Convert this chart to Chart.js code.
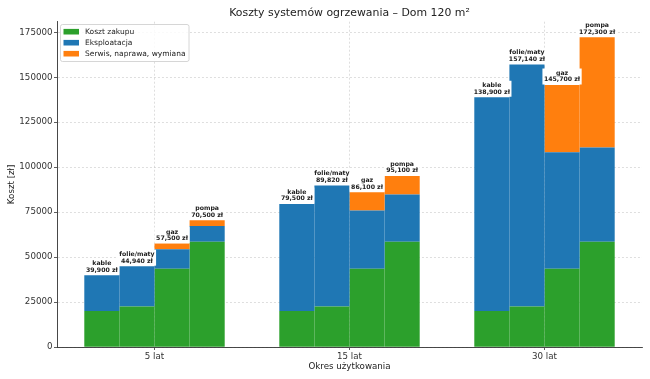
<!DOCTYPE html>
<html>
<head>
<meta charset="utf-8">
<script src="https://cdn.jsdelivr.net/npm/chart.js@4/dist/chart.umd.min.js"></script>
<style>
  html, body { margin: 0; padding: 0; background: #fff; }
  canvas { display: block; }
</style>
</head>
<body>
<canvas id="c" width="650" height="379"></canvas>
<script>
// ---- data ----
const categories = ['5 lat', '15 lat', '30 lat'];
const systems = ['kable', 'folie/maty', 'gaz', 'pompa'];
const components = ['Koszt zakupu', 'Eksploatacja', 'Serwis, naprawa, wymiana'];
const colors = ['#2ca02c', '#1f77b4', '#ff7f0e'];

const zakupKable = [20000, 20000, 20000];
const eksploatacjaKable = [19900, 59500, 118900];
const serwisKable = [0, 0, 0];

const zakupFolie = [22500, 22500, 22500];
const eksploatacjaFolie = [22440, 67320, 134640];
const serwisFolie = [0, 0, 0];

const zakupGaz = [43500, 43500, 43500];
const eksploatacjaGaz = [10800, 32400, 64800];
const serwisGaz = [3200, 10200, 37400];

const zakupPompa = [58500, 58500, 58500];
const eksploatacjaPompa = [8750, 26250, 52500];
const serwisPompa = [3250, 10350, 61300];

const yTicks = [0, 25000, 50000, 75000, 100000, 125000, 150000, 175000];

const seriesBySystem = [
  [zakupKable, eksploatacjaKable, serwisKable],
  [zakupFolie, eksploatacjaFolie, serwisFolie],
  [zakupGaz, eksploatacjaGaz, serwisGaz],
  [zakupPompa, eksploatacjaPompa, serwisPompa]
];

const datasets = [];
systems.forEach((s, si) => {
  components.forEach((c, ci) => {
    datasets.push({
      label: c,
      stack: s,
      data: seriesBySystem[si][ci],
      backgroundColor: colors[ci],
      borderWidth: 0,
      categoryPercentage: 0.72,
      barPercentage: 1.0
    });
  });
});

const totals = seriesBySystem.map(arrs => categories.map((_, j) => arrs.reduce((a, arr) => a + arr[j], 0)));
const yMax = Math.max(...totals.flat()) * 1.05;

const FONT = "'DejaVu Sans', sans-serif";

const extrasPlugin = {
  id: 'extras',
  afterDraw(chart) {
    const ctx = chart.ctx;
    const y = chart.scales.y;
    const area = chart.chartArea;
    ctx.save();
    // title
    ctx.fillStyle = '#222';
    ctx.font = `10.9px ${FONT}`;
    ctx.textAlign = 'center';
    ctx.textBaseline = 'middle';
    ctx.fillText('Koszty systemów ogrzewania – Dom 120 m²', (area.left + area.right) / 2, 13);

    // bar labels
    ctx.font = `bold 6.2px ${FONT}`;
    systems.forEach((s, si) => {
      const meta = chart.getDatasetMeta(si * 3 + 2);
      categories.forEach((_, j) => {
        const bar = meta.data[j];
        const x = bar.x;
        const top = y.getPixelForValue(totals[si][j]);
        const line2 = totals[si][j].toLocaleString('en-US') + ' zł';
        const w = Math.max(ctx.measureText(s).width, ctx.measureText(line2).width);
        ctx.fillStyle = '#fff';
        ctx.fillRect(x - w / 2 - 1.5, top - 16.5, w + 3, 16);
        ctx.fillStyle = '#222';
        ctx.fillText(s, x, top - 11.7);
        ctx.fillText(line2, x, top - 5.2);
      });
    });

    // legend
    const lx = 60.5, ly = 24.5, lw = 128.5, lh = 37;
    ctx.fillStyle = 'rgba(255,255,255,0.85)';
    ctx.strokeStyle = '#cccccc';
    ctx.lineWidth = 0.8;
    ctx.beginPath();
    ctx.roundRect(lx, ly, lw, lh, 2);
    ctx.fill();
    ctx.stroke();
    ctx.font = `7.5px ${FONT}`;
    ctx.textAlign = 'left';
    components.forEach((c, ci) => {
      const cy = 31.7 + ci * 11;
      ctx.fillStyle = colors[ci];
      ctx.fillRect(63.5, cy - 2.8, 15.5, 5.6);
      ctx.fillStyle = '#222';
      ctx.fillText(c, 85, cy);
    });
    ctx.restore();
  }
};

const gridCommon = {
  color: 'rgba(176,176,176,0.6)',
  lineWidth: 0.7,
  tickColor: '#333',
  tickBorderDash: [],
  tickLength: 3,
  tickWidth: 0.8
};

new Chart(document.getElementById('c'), {
  type: 'bar',
  data: { labels: categories, datasets },
  options: {
    responsive: false,
    animation: false,
    layout: { padding: { top: 21.7, right: 8, left: 0, bottom: 0 } },
    plugins: {
      legend: { display: false },
      title: { display: false },
      tooltip: { enabled: false }
    },
    scales: {
      x: {
        stacked: true,
        z: 1,
        grid: Object.assign({ offset: false }, gridCommon),
        border: { display: true, color: '#333', width: 0.9, dash: [2, 2] },
        ticks: { color: '#333', font: { family: FONT, size: 8.7 }, padding: 1.5 },
        title: { display: true, text: 'Okres użytkowania', color: '#222', font: { family: FONT, size: 8.7 }, padding: { top: 7.5, bottom: 7.5 } },
        afterFit(scale) { scale.height = 32; }
      },
      y: {
        stacked: true,
        z: 1,
        min: 0,
        max: yMax,
        afterBuildTicks(scale) { scale.ticks = yTicks.map(v => ({ value: v })); },
        grid: Object.assign({}, gridCommon),
        border: { display: true, color: '#333', width: 0.9, dash: [2, 2] },
        ticks: { color: '#333', font: { family: FONT, size: 8.7 }, padding: 1.5, callback: v => String(v) },
        title: { display: true, text: 'Koszt [zł]', color: '#222', font: { family: FONT, size: 8.7 }, padding: { top: 6.5, bottom: 6.5 } },
        afterFit(scale) { scale.width = 57; }
      }
    }
  },
  plugins: [extrasPlugin]
});
</script>
</body>
</html>
